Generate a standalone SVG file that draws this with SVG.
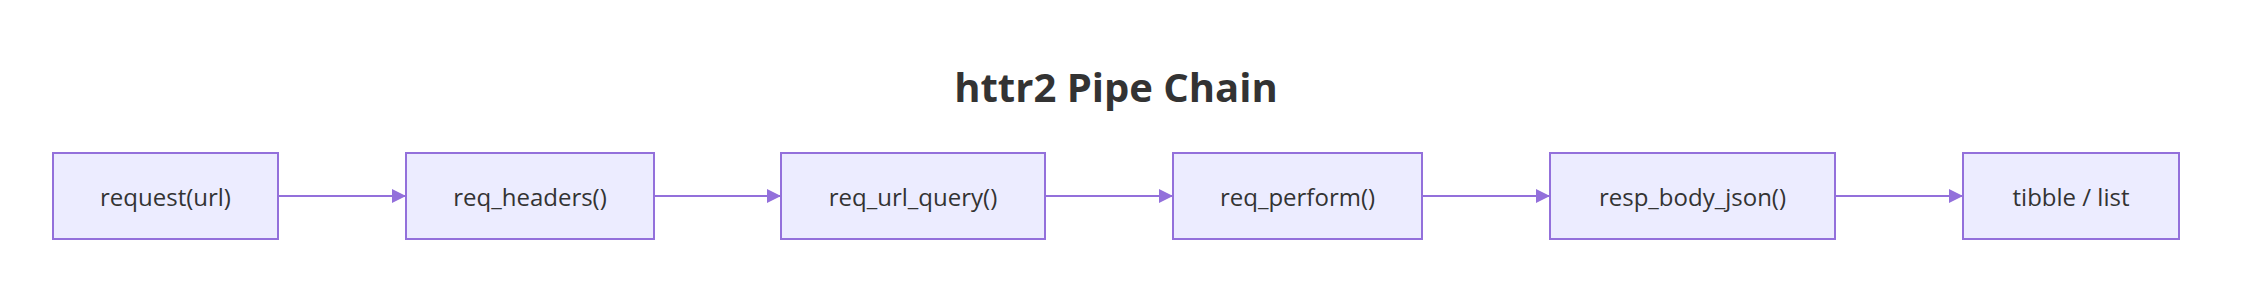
<svg xmlns="http://www.w3.org/2000/svg" width="2248" height="294" viewBox="0 0 2248 294">
<style>
.node rect{fill:#ECECFF;stroke:#9370DB;stroke-width:2px}
.node text{font-family:"Open Sans","Noto Sans",sans-serif;font-size:24px;fill:#333;text-anchor:middle;dominant-baseline:central}
.title{font-family:"Open Sans","Noto Sans",sans-serif;font-size:40px;font-weight:bold;fill:#333;text-anchor:middle}
.edge{stroke:#9370DB;stroke-width:2px;fill:none}
</style>
<defs>
<marker id="arrow" viewBox="0 0 10 10" refX="10" refY="5" markerWidth="14" markerHeight="14" markerUnits="userSpaceOnUse" orient="auto">
<path d="M0,0 L10,5 L0,10 z" fill="#9370DB"/>
</marker>
</defs>
<rect width="2248" height="294" fill="#fff"/>
<text class="title" x="1116" y="102">httr2 Pipe Chain</text>
<g id="connectors">
<path class="edge" d="M278,196 L406,196" marker-end="url(#arrow)"/>
<path class="edge" d="M654,196 L781,196" marker-end="url(#arrow)"/>
<path class="edge" d="M1045,196 L1173,196" marker-end="url(#arrow)"/>
<path class="edge" d="M1422,196 L1550,196" marker-end="url(#arrow)"/>
<path class="edge" d="M1835,196 L1963,196" marker-end="url(#arrow)"/>
</g>
<g id="n1" class="node"><rect x="53" y="153" width="225" height="86"/><text x="165.5" y="196">request(url)</text></g>
<g id="n2" class="node"><rect x="406" y="153" width="248" height="86"/><text x="530" y="196">req_headers()</text></g>
<g id="n3" class="node"><rect x="781" y="153" width="264" height="86"/><text x="913" y="196">req_url_query()</text></g>
<g id="n4" class="node"><rect x="1173" y="153" width="249" height="86"/><text x="1297.5" y="196">req_perform()</text></g>
<g id="n5" class="node"><rect x="1550" y="153" width="285" height="86"/><text x="1692.5" y="196">resp_body_json()</text></g>
<g id="n6" class="node"><rect x="1963" y="153" width="216" height="86"/><text x="2071" y="196">tibble / list</text></g>
</svg>
